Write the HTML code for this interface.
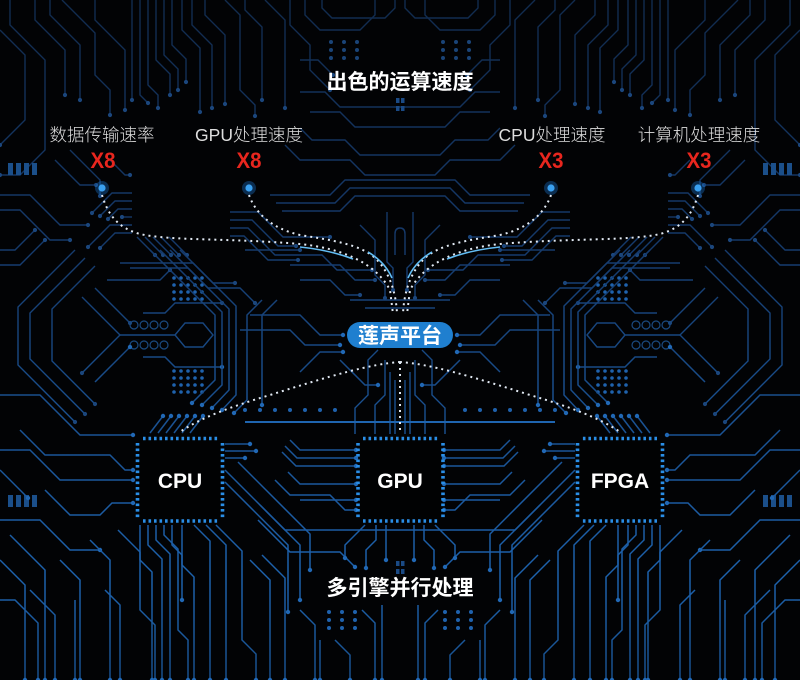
<!DOCTYPE html>
<html><head><meta charset="utf-8">
<style>
html,body{margin:0;padding:0;background:#020305;}
body{width:800px;height:680px;overflow:hidden;}
svg{display:block}
.t path{fill:none;stroke:url(#g);stroke-width:1.4;marker-end:url(#dt)}
.b path{fill:none;stroke:url(#g);stroke-width:1.5;marker-end:url(#db)}
.n path{fill:none;stroke:url(#g);stroke-width:1.4}
.gt circle{fill:#1a4478}
.gb circle{fill:#1f62ad}
.txt{font-family:"Liberation Sans","Noto Sans CJK SC",sans-serif;}
</style></head><body>
<svg width="800" height="680" viewBox="0 0 800 680">
<defs>
<linearGradient id="g" gradientUnits="userSpaceOnUse" x1="0" y1="0" x2="0" y2="680">
<stop offset="0" stop-color="#112b4e"/>
<stop offset="0.35" stop-color="#15396a"/>
<stop offset="0.62" stop-color="#1a5293"/>
<stop offset="0.85" stop-color="#1d62ad"/>
<stop offset="1" stop-color="#184f8c"/>
</linearGradient>
<marker id="dt" markerWidth="6" markerHeight="6" refX="3" refY="3" markerUnits="userSpaceOnUse"><circle cx="3" cy="3" r="2.1" fill="#1b467c"/></marker>
<marker id="db" markerWidth="6" markerHeight="6" refX="3" refY="3" markerUnits="userSpaceOnUse"><circle cx="3" cy="3" r="2.2" fill="#2168b5"/></marker>
</defs>
<rect width="800" height="680" fill="#020305"/>

<g id="L">
<g class="t">
<path d="M0,30 L25,55 V120 L0,145"/>
<path d="M10,0 V25 L45,60 V150 L20,175 H0"/>
<path d="M35,0 V20 L65,50 V95"/>
<path d="M50,0 V15 L80,45 V100"/>
<path d="M62,0 L95,33 V75 L110,90 V115"/>
<path d="M95,0 V20 L125,50 V110"/>
<path d="M132,0 V100"/>
<path d="M140,0 V95 L148,103"/>
<path d="M148,0 V85 L158,95 V108"/>
<path d="M156,0 V60 L170,74 V95"/>
<path d="M164,0 V55 L178,69 V90"/>
<path d="M172,0 V45 L186,59 V82"/>
<path d="M182,0 V30 L200,48 V112"/>
<path d="M192,0 V25 L212,45 V108"/>
<path d="M205,0 V15 L225,35 V104"/>
<path d="M225,0 L240,15 V90 L255,105 V116"/>
<path d="M245,0 V10 L262,27 V100"/>
<path d="M265,0 L285,20 V108"/>
<path d="M290,0 V25 L310,45 V70 L330,90"/>
<path d="M300,60 H318 L333,75"/>
<path d="M0,195 H30 L60,225 H88"/>
<path d="M0,210 H20 L50,240 H70"/>
<path d="M70,150 L100,180 V196"/>
<path d="M55,160 L80,185 H96"/>
<path d="M110,160 L125,175 H130"/>
<path d="M132,193 H112 L92,213"/>
<path d="M132,201 H115 L100,216"/>
<path d="M132,209 H118 L108,219"/>
<path d="M132,217 H122"/>
<path d="M132,225 H110 L88,247"/>
<path d="M132,233 H115 L100,248"/>
<path d="M230,212 H258 L283,237 H330"/>
<path d="M230,220 H252 L278,246 H296"/>
<path d="M230,228 H248 L275,255 H322 L337,270 H372"/>
<path d="M230,236 H244 L268,260 H298"/>
<path d="M360,225 L375,240 V275 L385,285 V298"/>
<path d="M387,212 V262 L393,268 V290"/>
<path d="M0,265 H20 L45,240"/>
<path d="M0,250 H15 L35,230"/>
<path d="M75,250 L18,307 V365 L75,422"/>
<path d="M85,258 L30,313 V359 L85,414"/>
<path d="M95,266 L52,309 V361 L95,404"/>
<path d="M137,237 L155,255"/>
<path d="M145,237 L163,255"/>
<path d="M153,237 L171,255"/>
<path d="M161,237 L179,255"/>
<path d="M169,237 L187,255"/>
<path d="M120,263 H193 L213,283 H235"/>
<path d="M130,268 H188 L208,288 H240 L255,303"/>
<path d="M107,280 H160 L170,270"/>
<path d="M82,297 L120,335 L82,373"/>
<path d="M95,288 L130,323"/>
<path d="M143,313 H165 L175,303 H222"/>
<path d="M245,250 L300,250"/>
<path d="M290,265 H340 L355,280 H375"/>
<path d="M300,280 H330 L345,295 H360"/>
</g>
<g class="n">
<path d="M305,0 V15 L320,30 H360 L375,15 V0"/>
<path d="M322,0 V8 L332,18 H385 L395,8 V0"/>
<path d="M395,255 V234 Q395,228 400,228"/>
<path d="M120,335 H175 L185,323 H203 L213,335 L203,347 H185 L175,335"/>
<path d="M300,92 H325 L340,107 H400"/>
<path d="M310,112 H340 L355,127 H400"/>
<path d="M300,128 L312,140 H345 L360,155 H400"/>
<path d="M285,145 L300,160 H350 L365,175 H400"/>
<path d="M270,195 H330 L345,180 H400"/>
<path d="M276,203 H335 L350,188 H400"/>
<path d="M282,211 H340 L355,196 H400"/>
</g>
<g class="gt">
<circle cx="331" cy="42" r="2"/><circle cx="344" cy="42" r="2"/><circle cx="357" cy="42" r="2"/>
<circle cx="331" cy="50" r="2"/><circle cx="344" cy="50" r="2"/><circle cx="357" cy="50" r="2"/>
<circle cx="331" cy="58" r="2"/><circle cx="344" cy="58" r="2"/><circle cx="357" cy="58" r="2"/>
</g>
<g class="gb">
<circle cx="174" cy="278" r="1.8"/><circle cx="181" cy="278" r="1.8"/><circle cx="188" cy="278" r="1.8"/><circle cx="195" cy="278" r="1.8"/><circle cx="202" cy="278" r="1.8"/>
<circle cx="174" cy="285" r="1.8"/><circle cx="181" cy="285" r="1.8"/><circle cx="188" cy="285" r="1.8"/><circle cx="195" cy="285" r="1.8"/><circle cx="202" cy="285" r="1.8"/>
<circle cx="174" cy="292" r="1.8"/><circle cx="181" cy="292" r="1.8"/><circle cx="188" cy="292" r="1.8"/><circle cx="195" cy="292" r="1.8"/><circle cx="202" cy="292" r="1.8"/>
<circle cx="174" cy="299" r="1.8"/><circle cx="181" cy="299" r="1.8"/><circle cx="188" cy="299" r="1.8"/><circle cx="195" cy="299" r="1.8"/><circle cx="202" cy="299" r="1.8"/>
<circle cx="174" cy="371" r="1.8"/><circle cx="181" cy="371" r="1.8"/><circle cx="188" cy="371" r="1.8"/><circle cx="195" cy="371" r="1.8"/><circle cx="202" cy="371" r="1.8"/>
<circle cx="174" cy="378" r="1.8"/><circle cx="181" cy="378" r="1.8"/><circle cx="188" cy="378" r="1.8"/><circle cx="195" cy="378" r="1.8"/><circle cx="202" cy="378" r="1.8"/>
<circle cx="174" cy="385" r="1.8"/><circle cx="181" cy="385" r="1.8"/><circle cx="188" cy="385" r="1.8"/><circle cx="195" cy="385" r="1.8"/><circle cx="202" cy="385" r="1.8"/>
<circle cx="174" cy="392" r="1.8"/><circle cx="181" cy="392" r="1.8"/><circle cx="188" cy="392" r="1.8"/><circle cx="195" cy="392" r="1.8"/><circle cx="202" cy="392" r="1.8"/>
<circle cx="329" cy="612" r="2"/><circle cx="342" cy="612" r="2"/><circle cx="355" cy="612" r="2"/>
<circle cx="329" cy="620" r="2"/><circle cx="342" cy="620" r="2"/><circle cx="355" cy="620" r="2"/>
<circle cx="329" cy="628" r="2"/><circle cx="342" cy="628" r="2"/><circle cx="355" cy="628" r="2"/>
<circle cx="245" cy="410" r="2"/><circle cx="260" cy="410" r="2"/><circle cx="275" cy="410" r="2"/><circle cx="290" cy="410" r="2"/><circle cx="305" cy="410" r="2"/><circle cx="320" cy="410" r="2"/><circle cx="335" cy="410" r="2"/>
</g>
<g fill="none" stroke="#1b4a80" stroke-width="1.2">
<circle cx="134" cy="325" r="4"/><circle cx="144" cy="325" r="4"/><circle cx="154" cy="325" r="4"/><circle cx="164" cy="325" r="4"/>
<circle cx="134" cy="345" r="4"/><circle cx="144" cy="345" r="4"/><circle cx="154" cy="345" r="4"/><circle cx="164" cy="345" r="4"/>
</g>
<g fill="#1b4f8a">
<rect x="8" y="163" width="5" height="12"/><rect x="16" y="163" width="5" height="12"/><rect x="24" y="163" width="5" height="12"/><rect x="32" y="163" width="5" height="12"/>
<rect x="8" y="495" width="5" height="12"/><rect x="16" y="495" width="5" height="12"/><rect x="24" y="495" width="5" height="12"/><rect x="32" y="495" width="5" height="12"/>
</g>
<g class="b">
<path d="M95,382 L130,347"/>
<path d="M143,357 H165 L175,367 H222"/>
<path d="M0,395 H40 L80,435 H133"/>
<path d="M20,430 L45,455 H110 L125,470 H133"/>
<path d="M0,450 H30 L60,480 H133"/>
<path d="M0,470 L28,498"/>
<path d="M45,490 L70,515 H100 L112,503 H133"/>
<path d="M150,250 L215,315 V380 L192,403"/>
<path d="M160,250 L222,312 V385 L202,405"/>
<path d="M170,250 L229,309 V390 L212,408"/>
<path d="M180,250 L236,306 V395 L222,410"/>
<path d="M262,300 L247,315 V400 L234,413"/>
<path d="M277,300 L262,315 V405"/>
<path d="M150,433 L163,416"/>
<path d="M158,433 L171,416"/>
<path d="M166,433 L179,416"/>
<path d="M174,433 L187,416"/>
<path d="M182,433 L195,416"/>
<path d="M190,433 L203,416"/>
<path d="M250,315 H300 L320,335 H343"/>
<path d="M240,330 H290 L305,345 H340"/>
<path d="M300,372 L320,352 H343"/>
<path d="M340,360 L365,385 H378"/>
<path d="M225,444 H250"/>
<path d="M225,451 H256"/>
<path d="M225,458 H245"/>
<path d="M225,470 L300,545 V600"/>
<path d="M225,482 L288,545 V612"/>
<path d="M238,462 L310,534 V570"/>
<path d="M290,440 L300,450 H356"/>
<path d="M285,446 L297,458 H356"/>
<path d="M282,452 L296,466 H356"/>
<path d="M288,472 L300,484 H356"/>
<path d="M275,480 L290,495 H330 L345,510 H356"/>
<path d="M300,500 H356"/>
<path d="M258,520 L290,552 H340 L355,567"/>
<path d="M0,520 H40 L70,550 H100"/>
<path d="M10,535 L45,570 V680"/>
<path d="M0,560 L25,585 V680"/>
<path d="M30,590 L55,615 V680"/>
<path d="M60,560 L80,580 V680"/>
<path d="M75,600 V680"/>
<path d="M90,540 L110,560 V680"/>
<path d="M105,590 L120,605 V680"/>
<path d="M118,530 L140,552 V610 L155,625 V680"/>
<path d="M140,525 V560 L152,572 V680"/>
<path d="M148,525 V545 L162,559 V680"/>
<path d="M156,525 V540 L170,554 V680"/>
<path d="M164,525 V535 L178,549 V630 L188,640 V680"/>
<path d="M172,525 V545 L182,555 V600"/>
<path d="M182,525 V565 L194,577 V680"/>
<path d="M194,525 L210,541 V680"/>
<path d="M206,525 L226,545 V680"/>
<path d="M216,525 L242,551 V640 L256,654 V680"/>
<path d="M0,600 H15 L38,623 V680"/>
<path d="M250,560 L270,580 V680"/>
<path d="M262,555 L285,578 V680"/>
<path d="M300,610 L315,625 V680"/>
<path d="M320,640 V680"/>
<path d="M335,640 L350,655 V680"/>
<path d="M362,610 L375,623 V680"/>
<path d="M382,605 V680"/>
<path d="M365,525 L345,545 V558"/>
<path d="M376,525 V540 L366,550 V568"/>
<path d="M386,525 V560"/>
</g>
<g class="n">
<path d="M350,300 H400"/>
<path d="M365,308 H400"/>
<path d="M385,360 V395 L375,405 V434"/>
<path d="M390,372 V434"/>
<path d="M395,380 V434"/>
<path d="M378,350 L368,360 V395 L355,408 V434"/>
<path d="M260,505 L285,530 H400"/>
</g>
<path d="M245,422 H400" stroke="#1f65b0" stroke-width="2" fill="none"/>

<!-- CPU chip -->
<rect x="139" y="440" width="82" height="79" fill="#010203"/>
<g stroke="#2a8ee6" stroke-width="3.6" fill="none">
<line x1="143" y1="438.5" x2="219" y2="438.5" stroke-dasharray="2.6 2.9"/>
<line x1="143" y1="521" x2="219" y2="521" stroke-dasharray="2.6 2.9"/>
<line x1="137.5" y1="443" x2="137.5" y2="518" stroke-dasharray="2.6 2.9"/>
<line x1="222.5" y1="443" x2="222.5" y2="518" stroke-dasharray="2.6 2.9"/>
</g>

<!-- dotted connectors -->
<g fill="none" stroke="#e2eaf4" stroke-width="2" stroke-dasharray="2 4">
<path d="M102,195 C108,215 118,228 140,234 C170,241 230,238 300,244 C340,248 375,262 390,290 L393,314"/>
<path d="M249,195 C255,212 270,228 300,235 C330,240 360,244 375,258 C388,270 396,290 397,314"/>
<path d="M400,362 C370,364 330,376 270,395 C230,407 200,418 180,432"/>
</g>
<g fill="none" stroke="#62bdf4" stroke-width="1.6">
<path d="M300,247 Q330,250 353,259"/>
<path d="M368,252 Q385,262 392,278"/>
</g>
<circle cx="102" cy="188" r="7" fill="#1a6fc0" opacity=".4"/>
<circle cx="102" cy="188" r="3.6" fill="#3aa0f0"/>
<circle cx="249" cy="188" r="7" fill="#1a6fc0" opacity=".4"/>
<circle cx="249" cy="188" r="3.6" fill="#3aa0f0"/>
</g>
<use href="#L" transform="matrix(-1 0 0 1 800 0)"/>

<!-- center elements -->
<g fill="#1a4a85">
<rect x="396" y="98" width="3.5" height="5"/><rect x="401" y="98" width="3.5" height="5"/>
<rect x="396" y="106" width="3.5" height="5"/><rect x="401" y="106" width="3.5" height="5"/>
<rect x="396" y="561" width="3.5" height="5"/><rect x="401" y="561" width="3.5" height="5"/>
<rect x="396" y="569" width="3.5" height="5"/><rect x="401" y="569" width="3.5" height="5"/>
</g>
<path d="M400,362 V432" fill="none" stroke="#e2eaf4" stroke-width="2" stroke-dasharray="2 4"/>

<!-- GPU chip -->
<rect x="360" y="440" width="81" height="79" fill="#010203"/>
<g stroke="#2a8ee6" stroke-width="3.6" fill="none">
<line x1="363" y1="438.5" x2="439" y2="438.5" stroke-dasharray="2.6 2.9"/>
<line x1="363" y1="521" x2="439" y2="521" stroke-dasharray="2.6 2.9"/>
<line x1="358" y1="443" x2="358" y2="518" stroke-dasharray="2.6 2.9"/>
<line x1="443" y1="443" x2="443" y2="518" stroke-dasharray="2.6 2.9"/>
</g>

<!-- pill -->
<rect x="347" y="322" width="106" height="26" rx="13" fill="#1f7fcf"/>

<g class="txt">
<text x="400" y="89" text-anchor="middle" font-size="21" font-weight="bold" fill="#ffffff">出色的运算速度</text>
<text x="400" y="595" text-anchor="middle" font-size="21" font-weight="bold" fill="#ffffff">多引擎并行处理</text>
<text x="400" y="343" text-anchor="middle" font-size="21" font-weight="bold" fill="#ffffff">莲声平台</text>

<text x="102" y="141" text-anchor="middle" font-size="17.5" font-weight="300" fill="#dedede">数据传输速率</text>
<text x="249" y="141" text-anchor="middle" font-size="17.5" font-weight="300" fill="#dedede">GPU处理速度</text>
<text x="552" y="141" text-anchor="middle" font-size="17.5" font-weight="300" fill="#dedede">CPU处理速度</text>
<text x="699" y="141" text-anchor="middle" font-size="17.5" font-weight="300" fill="#dedede">计算机处理速度</text>

<g font-size="22" font-weight="bold" fill="#e8261e" text-anchor="middle">
<text x="103" y="168" textLength="25" lengthAdjust="spacingAndGlyphs">X8</text>
<text x="249" y="168" textLength="25" lengthAdjust="spacingAndGlyphs">X8</text>
<text x="551" y="168" textLength="25" lengthAdjust="spacingAndGlyphs">X3</text>
<text x="699" y="168" textLength="25" lengthAdjust="spacingAndGlyphs">X3</text>
</g>

<g font-size="21" font-weight="bold" fill="#ffffff" text-anchor="middle">
<text x="180" y="488">CPU</text>
<text x="400" y="488">GPU</text>
<text x="620" y="488">FPGA</text>
</g>
</g>
</svg>
</body></html>
